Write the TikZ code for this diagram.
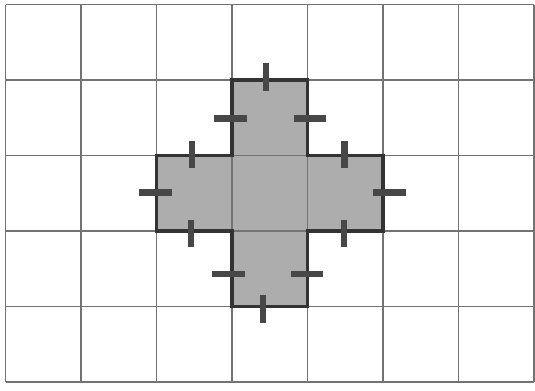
\documentclass[tikz,border=0pt]{standalone}
\begin{document}
\begin{tikzpicture}[grid line/.style={draw=black!55,line width=0.5pt},
                    cross/.style={draw=black!80,line width=1.2pt},
                    cross fill/.style={fill=black!32},
                    tick/.style={draw=black!72,line width=2.3pt}]
  \useasboundingbox (-0.073,-0.106) rectangle (7.013,5.06);
  \fill[white] (-0.073,-0.106) rectangle (7.013,5.06);

  % the cross of six squares
  \path[cross fill] (3,1) -- (4,1) -- (4,2) -- (5,2) -- (5,3) -- (4,3) -- (4,4)
    -- (3,4) -- (3,3) -- (2,3) -- (2,2) -- (3,2) -- cycle;
  \draw[grid line] (0,0) grid (7,5);
  \draw[cross] (3,1) -- (4,1) -- (4,2) -- (5,2) -- (5,3) -- (4,3) -- (4,4)
    -- (3,4) -- (3,3) -- (2,3) -- (2,2) -- (3,2) -- cycle;

  % ticks across the edges
  \foreach \x/\ya/\yb in {3.45/3.86/4.23, 2.47/2.84/3.19, 2.46/1.79/2.14,
                          4.49/2.84/3.19, 4.48/1.79/2.14, 3.41/0.78/1.15}
    \draw[tick] (\x,\ya) -- (\x,\yb);
  \foreach \y/\xa/\xb in {3.49/2.76/3.20, 3.49/3.82/4.24, 2.51/1.77/2.20,
                          2.51/4.87/5.30, 1.43/2.74/3.17, 1.43/3.78/4.20}
    \draw[tick] (\xa,\y) -- (\xb,\y);
\end{tikzpicture}
\end{document}
